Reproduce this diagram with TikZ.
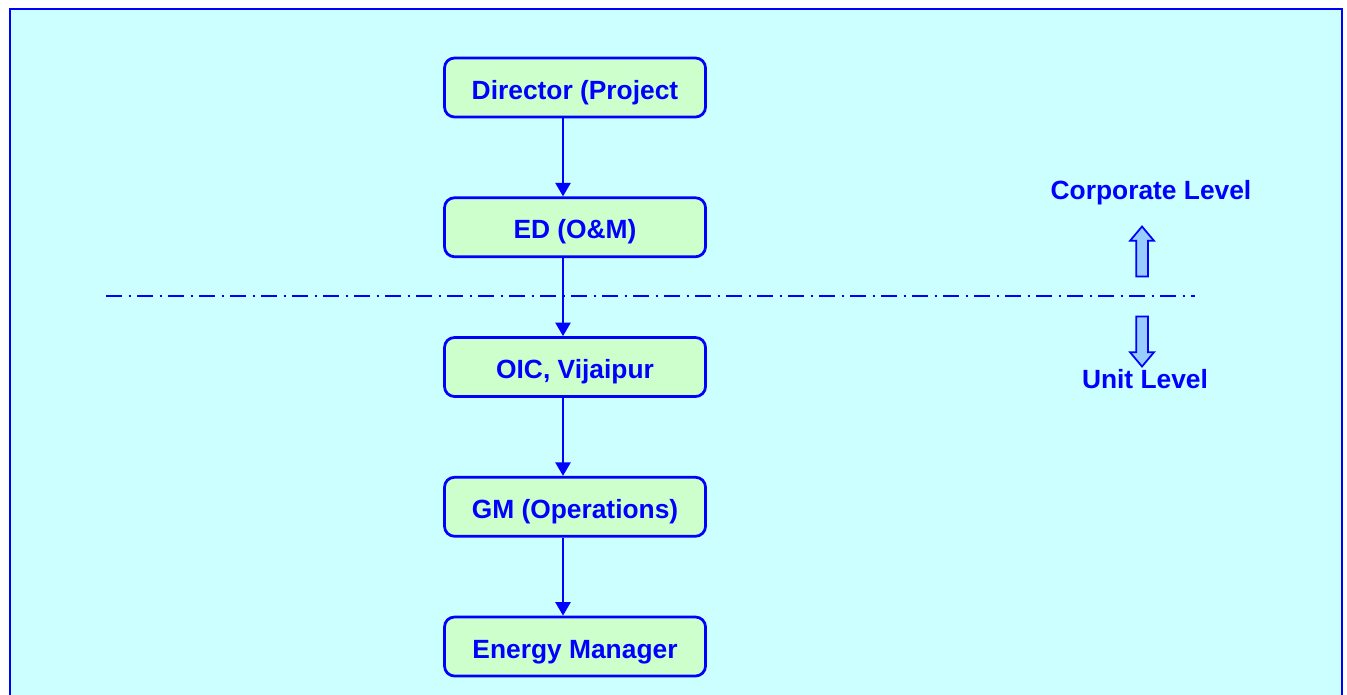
\documentclass[tikz,border=0pt]{standalone}
\usepackage{fontspec}
\setmainfont{Liberation Sans}
\usetikzlibrary{shapes.arrows, arrows.meta, positioning, calc}
\definecolor{paneblue}{RGB}{204,255,255}
\definecolor{boxgreen}{RGB}{204,255,204}
\definecolor{lineblue}{RGB}{0,0,255}
\definecolor{arrowfill}{RGB}{153,204,255}
\tikzstyle{post} = [rectangle, rounded corners=0.2cm, minimum width=5.22cm, minimum height=1.18cm, text height=0.52cm, text depth=0.06cm, text centered, draw=lineblue, line width=0.055cm, fill=boxgreen, text=lineblue, font=\fontsize{15}{18}\selectfont\bfseries]
\tikzstyle{arrow} = [lineblue, line width=0.05cm, -{Triangle[length=0.27cm, width=0.3cm]}]
\tikzstyle{levelarrow} = [single arrow, draw=lineblue, fill=arrowfill, line width=0.035cm, minimum height=1cm, minimum width=0.44cm, inner sep=0.1cm, single arrow head extend=0.12cm, single arrow tip angle=80]
\tikzstyle{level} = [text=lineblue, font=\fontsize{15}{18}\selectfont\bfseries]

\begin{document}
\begin{tikzpicture}[node distance=1.56cm]
\useasboundingbox (0,0) rectangle (26.94,-13.88);
\clip (0,0) rectangle (26.94,-13.88);

% Frame
\draw[lineblue, line width=0.05cm, fill=paneblue] (0.2,-0.18) rectangle (26.84,-14.3);

% Reporting chain
\node (director) [post] at (11.5,-1.75) {Director (Project};
\node (ed) [post, below=of director] {ED (O\&M)};
\node (oic) [post, below=of ed] {OIC, Vijaipur};
\node (gm) [post, below=of oic] {GM (Operations)};
\node (energy) [post, below=of gm] {Energy Manager};

% Arrows down the chain
\draw [arrow] ([xshift=-0.24cm]director.south) -- ([xshift=-0.24cm]ed.north);
\draw [arrow] ([xshift=-0.24cm]ed.south) -- ([xshift=-0.24cm]oic.north);
\draw [arrow] ([xshift=-0.24cm]oic.south) -- ([xshift=-0.24cm]gm.north);
\draw [arrow] ([xshift=-0.24cm]gm.south) -- ([xshift=-0.24cm]energy.north);

% Divider between the two levels
\coordinate (dividel) at (2.12,-5.92);
\coordinate (divider) at (23.9,-5.92);
\draw[lineblue, line width=0.04cm, dash pattern=on 0.32cm off 0.13cm on 0.05cm off 0.12cm] (dividel) -- (divider);

% Level markers
\node (up) [levelarrow, shape border rotate=90] at (22.84,-5.1) {};
\node (down) [levelarrow, shape border rotate=270] at (22.84,-6.76) {};
\node (corporate) [level] at (23.02,-3.86) {Corporate Level};
\node (unit) [level] at (22.9,-7.58) {Unit Level};

\end{tikzpicture}
\end{document}
